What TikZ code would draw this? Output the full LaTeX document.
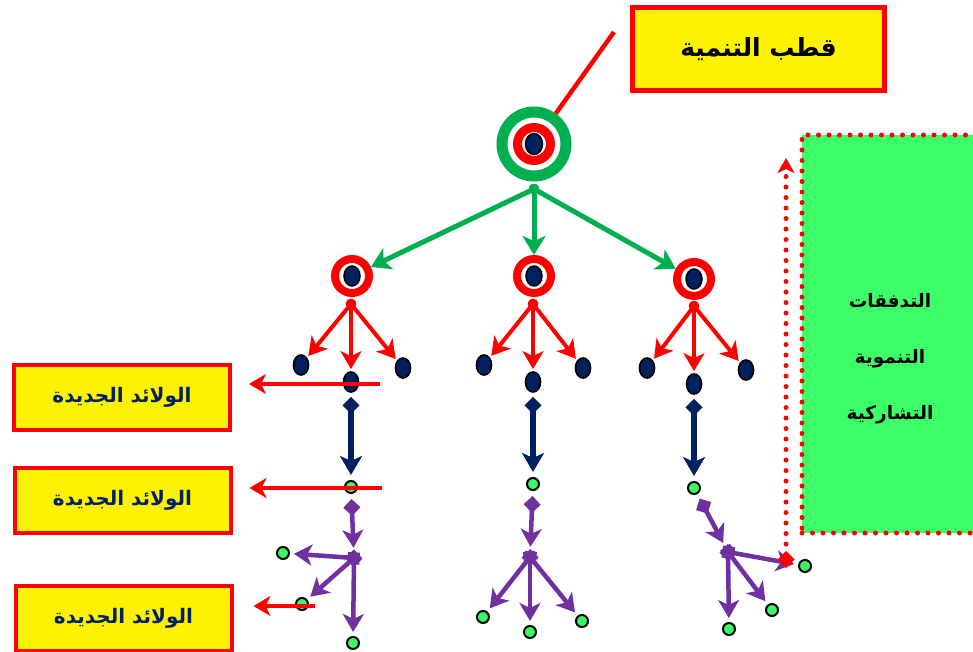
\documentclass[tikz,border=0pt]{standalone}
\usepackage{fontspec}
\newfontfamily\arabicfont[Script=Arabic]{DejaVu Sans}
\TeXXeTstate=1
\usetikzlibrary{arrows.meta}
\usetikzlibrary{shapes.geometric}

\definecolor{polegreen}{HTML}{00B050}
\definecolor{navy}{HTML}{002060}
\definecolor{plum}{HTML}{7030A0}
\definecolor{seedgreen}{HTML}{3CF864}
\definecolor{flowgreen}{HTML}{3CFF68}

\begin{document}
\begin{tikzpicture}[x=1pt, y=-1pt,
    pole/.style={circle, draw=polegreen, line width=11pt, fill=white,
        minimum size=64pt, inner sep=0pt},
    ring/.style={circle, draw=red, line width=8pt, fill=white,
        minimum size=34pt, inner sep=0pt},
    core/.style={ellipse, draw=black, fill=navy, line width=1.5pt,
        minimum width=16pt, minimum height=20pt, inner sep=0pt},
    leaf/.style={ellipse, draw=black, fill=navy, line width=1.7pt,
        minimum width=15pt, minimum height=20pt, inner sep=0pt},
    seed/.style={circle, draw=black, fill=seedgreen, line width=2pt,
        minimum size=12pt, inner sep=0pt},
    hub/.style={circle, inner sep=0pt, minimum size=20pt},
    tagbox/.style={rectangle, draw=red, line width=4pt, fill=yellow,
        minimum width=216pt, minimum height=65pt, text=navy,
        font=\arabicfont\bfseries\fontsize{20}{24}\selectfont},
    greenarrow/.style={polegreen, line width=5pt, shorten <=-5pt,
        {Circle[length=10pt]}-{Stealth[length=19pt,width=23pt,inset=5pt]}},
    redarrow/.style={red, line width=4pt, shorten >=2pt, shorten <=-5pt,
        {Circle[length=10pt]}-{Stealth[length=18pt,width=21pt,inset=5pt]}},
    navyarrow/.style={navy, line width=6pt, shorten <=4pt, shorten >=5pt,
        {Diamond[length=17pt,width=17pt]}-{Stealth[length=19pt,width=22pt,inset=5pt]}},
    plumarrow/.style={plum, line width=4.5pt,
        {Diamond[length=17pt,width=17pt]}-{Stealth[length=18pt,width=21pt,inset=5pt]}},
    tagline/.style={red, line width=4pt,
        -{Stealth[length=17pt,width=20pt,inset=5pt]}},
]
\useasboundingbox (0,0) rectangle (973,652);

% flows box on the right
\node[rectangle, fill=flowgreen, draw=red, line width=5pt,
    dash pattern=on 0pt off 10.5pt, line cap=round,
    minimum width=182pt, minimum height=398pt] (flows) at (893,334) {};
\node[font=\arabicfont\bfseries\fontsize{18.5}{56}\selectfont, align=center]
    (flowtext) at (890,359)
    {\beginR التدفقات\endR\\ \beginR التنموية\endR\\ \beginR التشاركية\endR};

% the pole and its label
\node[rectangle, draw=red, line width=5pt, fill=yellow,
    minimum width=252pt, minimum height=83pt,
    font=\arabicfont\bfseries\fontsize{25}{28}\selectfont] (title) at (758.5,49)
    {\beginR قطب التنمية\endR};
\node[pole] (pole) at (534,144) {};
\node[ring, line width=9pt, minimum size=33pt] (poleRing) at (pole) {};
\node[core, minimum width=17pt, minimum height=21pt] (poleCore) at (pole) {};
\coordinate (titlelink) at (614,32);
\draw[red, line width=4.5pt] (titlelink) -- (pole);

% second level poles
\foreach \n/\x/\y in {A/352/276, B/534/276, C/694/279}{
    \node[ring] (ring\n) at (\x,\y) {};
    \node[core] (core\n) at (ring\n) {};
}
\coordinate (hub0) at (534,189);
\draw[greenarrow] (hub0) -- (ringA);
\draw[greenarrow] (hub0) -- (ringB);
\draw[greenarrow] (hub0) -- (ringC);

% leaves
\node[leaf] (a1) at (301,365) {};
\node[leaf] (a2) at (351,382) {};
\node[leaf] (a3) at (403,368) {};
\node[leaf] (b1) at (484,365) {};
\node[leaf] (b2) at (533,382) {};
\node[leaf] (b3) at (583,368) {};
\node[leaf] (c1) at (647,368) {};
\node[leaf] (c2) at (694,384) {};
\node[leaf] (c3) at (746,370) {};
\coordinate (hubA) at (351,304);
\coordinate (hubB) at (533,304);
\coordinate (hubC) at (694,306);
\foreach \n/\m in {A/a, B/b, C/c}{
    \draw[redarrow] (hub\n) -- (\m1);
    \draw[redarrow] (hub\n) -- (\m2);
    \draw[redarrow] (hub\n) -- (\m3);
}

% seeds and the new shoots
\node[seed] (sA) at (351,487) {};
\node[seed] (sB) at (533,484) {};
\node[seed] (sC) at (694,488) {};
\draw[navyarrow] (a2) -- (sA);
\draw[navyarrow] (b2) -- (sB);
\draw[navyarrow] (c2) -- (sC);

\node[hub] (pA) at (354,558) {};
\node[hub] (pB) at (530,557) {};
\node[hub] (pC) at (728,552) {};
\draw[plumarrow, shorten <=5pt] (sA) -- (pA);
\draw[plumarrow, shorten <=5pt] (sB) -- (pB);
\draw[plumarrow, shorten <=5pt] (sC) -- (pC);

\node[seed] (sA1) at (283,553) {};
\node[seed] (sA2) at (302,604) {};
\node[seed] (sA3) at (353,643) {};
\node[seed] (sB1) at (483,617) {};
\node[seed] (sB2) at (530,632) {};
\node[seed] (sB3) at (582,621) {};
\node[seed] (sC1) at (729,629) {};
\node[seed] (sC2) at (772,610) {};
\node[seed] (sC3) at (805,566) {};
\foreach \n in {A, B, C}{
    \draw[plumarrow, shorten <=-8pt, shorten >=4pt] (p\n.center) -- (s\n1);
    \draw[plumarrow, shorten <=-8pt, shorten >=4pt] (p\n.center) -- (s\n2);
    \draw[plumarrow, shorten <=-8pt, shorten >=4pt] (p\n.center) -- (s\n3);
}

% upward flow along the box
\coordinate (flowfoot) at (786,560);
\coordinate (flowhead) at (786,158);
\draw[red, line width=5pt, dash pattern=on 0pt off 10.5pt, line cap=round,
    shorten <=-8pt,
    {Diamond[length=17pt,width=17pt]}-{Stealth[length=15pt,width=17pt,inset=4pt]}]
    (flowfoot) -- (flowhead);

% labels on the left
\node[tagbox] (tag1) at (122,397.5) {\beginR الولائد الجديدة\endR};
\node[tagbox] (tag2) at (122.5,500) {\beginR الولائد الجديدة\endR};
\node[tagbox] (tag3) at (123.5,618) {\beginR الولائد الجديدة\endR};
\coordinate (cut1) at (380,384);
\coordinate (cut2) at (382,488);
\coordinate (cut3) at (315,606);
\draw[tagline, shorten >=17pt] (cut1) -- (cut1 -| tag1.east);
\draw[tagline, shorten >=17pt] (cut2) -- (cut2 -| tag2.east);
\draw[tagline, shorten >=20pt] (cut3) -- (cut3 -| tag3.east);
\end{tikzpicture}
\end{document}
